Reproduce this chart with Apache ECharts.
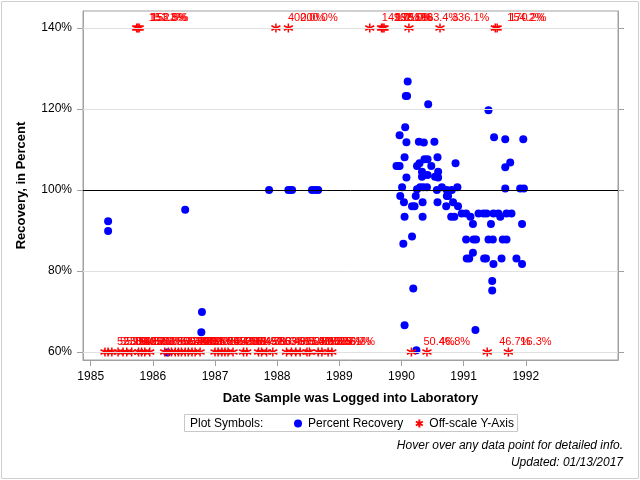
<!DOCTYPE html>
<html>
<head>
<meta charset="utf-8">
<script src="https://cdn.jsdelivr.net/npm/echarts@6/dist/echarts.min.js"></script>
<style>
  html, body { margin: 0; padding: 0; background: #fff; }
  #main { width: 640px; height: 480px; }
</style>
</head>
<body>
<div id="main"></div>
<script>
// axis ticks
var xTicks = [1985, 1986, 1987, 1988, 1989, 1990, 1991, 1992];
var yTicks = [60, 80, 100, 120, 140];

// percent recovery (date as decimal year, percent)
var recYear = [
  1985.28, 1985.28, 1986.23, 1986.52, 1986.79, 1986.78,
  1987.87, 1988.18, 1988.21, 1988.24, 1988.56, 1988.61, 1988.66,
  1990.10, 1990.07, 1990.09, 1990.43, 1991.40,
  1990.06, 1989.97, 1990.08, 1990.28, 1990.36, 1990.53,
  1991.49, 1991.67, 1991.96,
  1990.05, 1989.92, 1989.95, 1989.97, 1990.25, 1990.29, 1990.37, 1990.42, 1990.48, 1990.58,
  1990.33, 1990.33, 1990.42, 1990.54, 1990.59, 1990.59, 1990.87, 1991.67, 1991.75,
  1990.08, 1990.01, 1990.25, 1990.30, 1990.35, 1990.41, 1990.57, 1990.65, 1990.73, 1990.81, 1990.90, 1991.67, 1991.91, 1991.97,
  1989.98, 1990.23, 1990.04, 1990.17, 1990.21, 1990.34, 1990.58, 1990.73, 1990.75, 1990.72, 1990.83, 1990.91,
  1990.05, 1990.34, 1990.80, 1990.85, 1990.97, 1991.04, 1991.11, 1991.24, 1991.32, 1991.37, 1991.48, 1991.56, 1991.59, 1991.69, 1991.77,
  1991.15, 1991.44, 1991.94, 1990.17, 1990.03, 1991.04, 1991.16, 1991.20, 1991.40, 1991.47, 1991.63, 1991.69,
  1991.15, 1991.05, 1991.09, 1991.33, 1991.36, 1991.48, 1991.61, 1991.85, 1991.94,
  1991.46, 1991.46, 1990.19, 1990.05, 1991.19, 1990.24
];
var recPct = [
  92.3, 89.9, 59.9, 95.1, 69.9, 64.9,
  100, 100, 100, 100, 100, 100, 100,
  126.8, 123.2, 123.2, 121.2, 119.7,
  115.5, 113.5, 111.8, 111.9, 111.7, 111.9,
  113.0, 112.5, 112.5,
  108.1, 105.9, 105.9, 105.9, 105.9, 106.6, 107.6, 107.6, 105.9, 108.1,
  104.5, 103.3, 103.7, 103.3, 104.5, 103.1, 106.6, 105.6, 106.8,
  103.1, 100.7, 100.2, 100.7, 100.7, 100.7, 100, 100.7, 100, 100, 100.7, 100.4, 100.4, 100.4,
  98.5, 98.5, 97.0, 96.0, 96.0, 97.0, 97.0, 98.5, 98.5, 96.0, 97.0, 96.0,
  93.4, 93.4, 93.4, 93.4, 94.2, 94.2, 93.4, 94.2, 94.2, 94.2, 94.2, 94.2, 93.4, 94.2, 94.2,
  91.6, 91.6, 91.6, 88.5, 86.7, 87.8, 87.8, 87.8, 87.8, 87.8, 87.8, 87.8,
  84.5, 83.1, 83.1, 83.1, 83.1, 81.7, 83.1, 83.1, 81.7,
  77.5, 75.2, 75.7, 66.6, 65.4, 60.4
];

// off-scale high (plotted at 140%)
var highYear = [1985.74, 1985.76, 1985.78, 1987.98, 1988.18, 1989.49, 1989.68, 1989.70, 1989.72, 1990.12, 1990.62, 1991.51, 1991.54];
var highPct = [151.3, 153.8, 152.5, 400.0, 200.0, 149.0, 162.5, 190.0, 175.0, 183.4, 336.1, 154.2, 170.2];

// off-scale low (plotted at 60%)
var lowYear = [
  1985.23, 1985.28, 1985.34, 1985.44, 1985.52, 1985.58, 1985.66, 1985.77, 1985.82, 1985.87, 1985.95,
  1986.19, 1986.25, 1986.30, 1986.36, 1986.41, 1986.46, 1986.52, 1986.57, 1986.63, 1986.68, 1986.76,
  1987.00, 1987.05, 1987.11, 1987.16, 1987.21, 1987.29, 1987.46, 1987.51, 1987.70, 1987.75, 1987.83, 1987.93,
  1988.15, 1988.23, 1988.30, 1988.37, 1988.48, 1988.52, 1988.66, 1988.72, 1988.82, 1988.88,
  1990.16, 1990.41, 1991.38, 1991.72
];
var lowPct = [
  52.9, 55.0, 53.6, 50.0, 56.2, 54.5, 51.7, 55.6, 52.0, 50.8, 53.3,
  55.2, 51.4, 56.7, 50.0, 53.8, 52.6, 54.1, 50.9, 55.5, 53.0, 51.2,
  54.4, 52.2, 50.5, 56.0, 53.1, 55.8, 51.9, 54.7, 52.3, 50.6, 56.4, 53.9,
  51.0, 55.3, 52.7, 54.0, 50.3, 56.9, 53.5, 51.6, 55.1, 56.7,
  50.4, 46.8, 46.7, 16.3
];

var BLUE = '#0000ff', RED = '#ff0000';
var FONT = 'Liberation Sans, Arial, sans-serif';
var ASTER = 'path://M5,0L5,10M0.67,2.5L9.33,7.5M0.67,7.5L9.33,2.5';

var recData = recYear.map(function (x, i) { return [x, recPct[i]]; });
var highData = highYear.map(function (x, i) { return [x, 140, highPct[i]]; });
var lowData = lowYear.map(function (x, i) { return [x, 60, lowPct[i]]; });

var offLabel = {
  show: true,
  position: 'right',
  distance: 5,
  offset: [0, -10],
  color: RED,
  fontSize: 11,
  fontFamily: FONT,
  formatter: function (p) { return p.value[2].toFixed(1) + '%'; }
};

var chart = echarts.init(document.getElementById('main'));
chart.setOption({
  animation: false,
  textStyle: { fontFamily: FONT },
  grid: {
    left: 83, right: 22, top: 11, bottom: 120,
    show: true, borderColor: '#a0a0a0', borderWidth: 1
  },
  xAxis: {
    type: 'value',
    min: 1984.876, max: 1993.484,
    name: 'Date Sample was Logged into Laboratory',
    nameLocation: 'middle',
    nameGap: 32,
    nameTextStyle: { fontSize: 13, fontWeight: 'bold', color: '#000' },
    axisLine: { lineStyle: { color: '#a0a0a0' } },
    axisTick: { length: 6, lineStyle: { color: '#a0a0a0' }, customValues: xTicks },
    axisLabel: { customValues: xTicks, color: '#000', fontSize: 12, margin: 11,
      formatter: function (v) { return String(v); } },
    splitLine: { show: false }
  },
  yAxis: [{
    type: 'value',
    min: 58.02, max: 144.2,
    name: 'Recovery, in Percent',
    nameLocation: 'middle',
    nameGap: 55,
    nameRotate: 90,
    nameTextStyle: { fontSize: 13, fontWeight: 'bold', color: '#000' },
    axisLine: { show: true, lineStyle: { color: '#a0a0a0' } },
    axisTick: { show: true, length: 6, lineStyle: { color: '#a0a0a0' }, customValues: yTicks },
    axisLabel: { customValues: yTicks, color: '#000', fontSize: 12, margin: 11,
      formatter: function (v) { return v + '%'; } },
    splitLine: { show: false }
  }, {
    type: 'value',
    position: 'right',
    min: 58.02, max: 144.2,
    axisLine: { show: true, lineStyle: { color: '#a0a0a0' } },
    axisTick: { show: true, length: 6, lineStyle: { color: '#a0a0a0' }, customValues: yTicks },
    axisLabel: { show: false },
    splitLine: { show: false }
  }],
  legend: {
    data: ['Percent Recovery', 'Off-scale Y-Axis'],
    left: 289, top: 412,
    itemWidth: 10, itemHeight: 8, itemGap: 10,
    textStyle: { fontSize: 12, color: '#000', fontFamily: FONT }
  },
  graphic: [
    { type: 'rect', shape: { x: 1.5, y: 1.5, width: 637, height: 477 },
      style: { fill: 'none', stroke: '#cfcfcf', lineWidth: 1 }, silent: true },
    { type: 'rect', shape: { x: 184.5, y: 414.5, width: 333, height: 17 },
      style: { fill: 'none', stroke: '#c8c8c8', lineWidth: 1 }, silent: true },
    { type: 'text', x: 190, y: 424, style: { text: 'Plot Symbols:', fontSize: 12, fontFamily: FONT,
      fill: '#000', verticalAlign: 'middle' } },
    { type: 'text', x: 623, y: 446, style: { text: 'Hover over any data point for detailed info.',
      fontSize: 12, fontStyle: 'italic', fontFamily: FONT, fill: '#000', align: 'right', verticalAlign: 'middle' } },
    { type: 'text', x: 623, y: 463, style: { text: 'Updated: 01/13/2017',
      fontSize: 12, fontStyle: 'italic', fontFamily: FONT, fill: '#000', align: 'right', verticalAlign: 'middle' } }
  ],
  series: [
    {
      name: 'grid lines',
      type: 'scatter',
      data: [],
      silent: true,
      markLine: {
        silent: true,
        symbol: 'none',
        label: { show: false },
        data: [
          { yAxis: 60, lineStyle: { color: '#e0e0e0', type: 'solid', width: 1 } },
          { yAxis: 80, lineStyle: { color: '#e0e0e0', type: 'solid', width: 1 } },
          { yAxis: 120, lineStyle: { color: '#e0e0e0', type: 'solid', width: 1 } },
          { yAxis: 140, lineStyle: { color: '#e0e0e0', type: 'solid', width: 1 } },
          { yAxis: 100, lineStyle: { color: '#000', type: 'solid', width: 1 } }
        ]
      }
    },
    {
      name: 'Percent Recovery',
      type: 'scatter',
      data: recData,
      symbol: 'circle',
      symbolSize: 8,
      itemStyle: { color: BLUE, opacity: 1 },
      z: 3
    },
    {
      name: 'Off-scale Y-Axis',
      type: 'scatter',
      data: highData.concat(lowData),
      symbol: ASTER,
      symbolSize: 9,
      itemStyle: { color: 'none', borderColor: RED, borderWidth: 1.5, opacity: 1 },
      label: offLabel,
      z: 4
    }
  ]
});
</script>
</body>
</html>
